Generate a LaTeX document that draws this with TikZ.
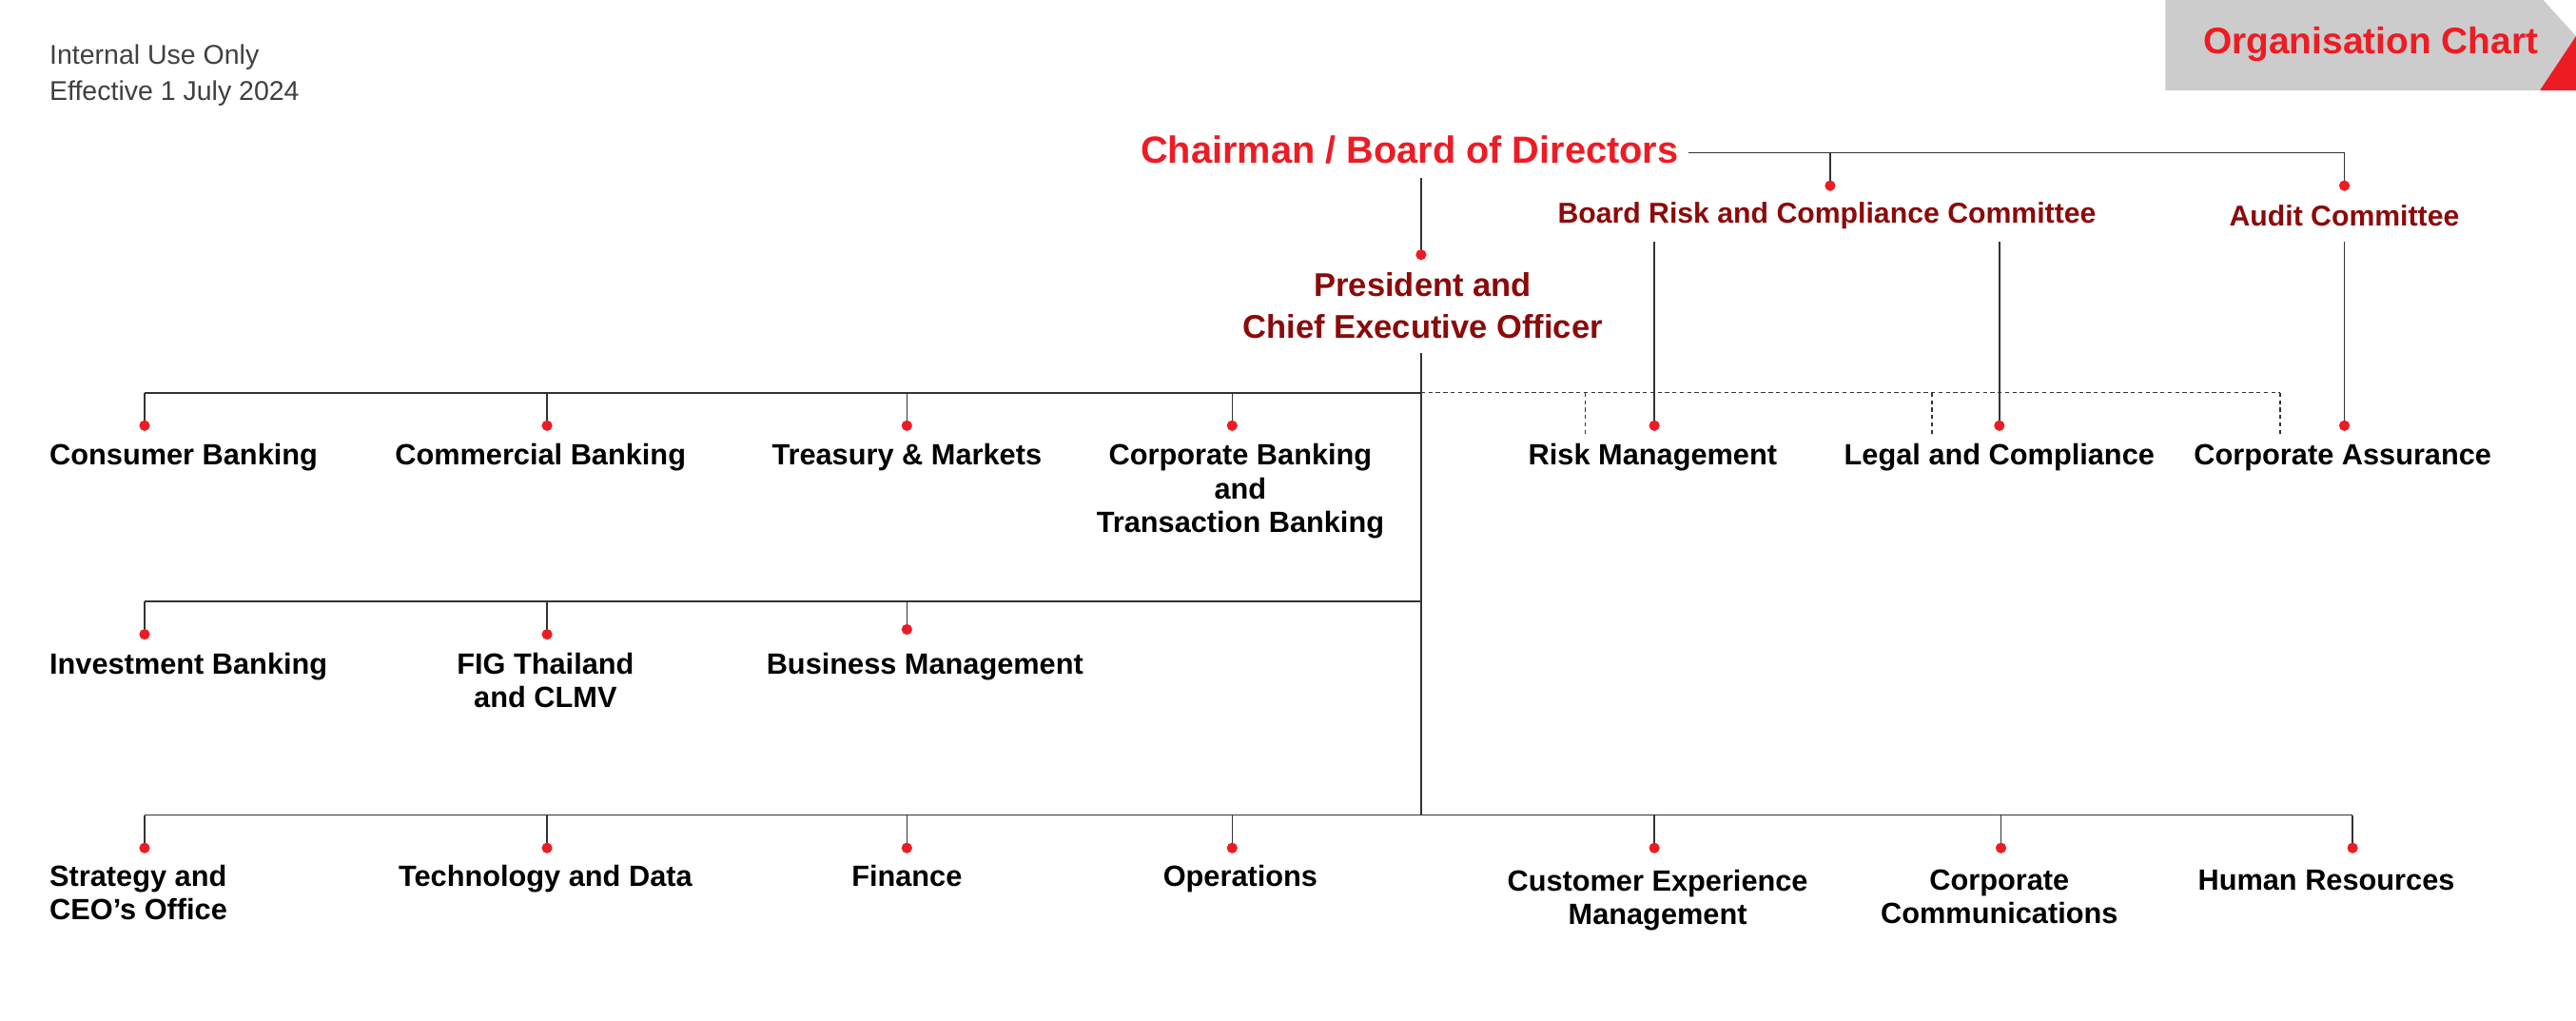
\documentclass[tikz,border=0pt]{standalone}
\usepackage{fontspec}
\setmainfont{Liberation Sans}
\definecolor{bred}{HTML}{ED1C24}
\definecolor{dred}{HTML}{8B0A0A}
\definecolor{lgray}{HTML}{CCCCCC}
\begin{document}
\begin{tikzpicture}[x=1pt,y=-1pt,
  unit/.style={font=\fontsize{17.8}{20.5}\selectfont\bfseries,align=center,inner sep=0pt,anchor=north},
  unitl/.style={unit,anchor=north west,align=left},
  comm/.style={font=\fontsize{17.5}{20}\selectfont\bfseries,text=dred,inner sep=0pt},
  ln/.style={draw=black!80,line width=0.9pt},
  dl/.style={draw=black!80,line width=0.8pt,dash pattern=on 2.5pt off 2pt},
  dot/.style={fill=bred,circle,inner sep=0pt,minimum size=6.5pt}]
\useasboundingbox (0,0) rectangle (1568,621);
\fill[white] (0,0) rectangle (1568,621);
% header
\node[anchor=west,inner sep=0pt,text=black!75,font=\fontsize{16.5}{17}\selectfont] (h1) at (30,35) {Internal Use Only};
\node[anchor=west,inner sep=0pt,text=black!75,font=\fontsize{16.5}{17}\selectfont] (h2) at (30,57) {Effective 1 July 2024};
\fill[lgray] (1318,0) -- (1548,0) -- (1568,22) -- (1568,55) -- (1318,55) -- cycle;
\fill[bred] (1568,22) -- (1568,55) -- (1546,55) -- cycle;
\node[font=\fontsize{22.5}{24}\selectfont\bfseries,text=bred,inner sep=0pt] (oc) at (1443,27) {Organisation Chart};
% top
\node[font=\fontsize{23}{26}\selectfont\bfseries,text=bred,inner sep=0pt] (ch) at (858,91) {Chairman / Board of Directors};
\node[comm] (brc) at (1112,131) {Board Risk and Compliance Committee};
\node[comm] (ac) at (1427,131) {Audit Committee};
\node[comm,font=\fontsize{20}{25}\selectfont\bfseries,align=center] (ceo) at (866,186) {President and\\Chief Executive Officer};
\draw[ln] (ch.east) ++(6,2) -- (1427,93) -- (1427,113);
\draw[ln] (1114,93) -- (1114,113);
\node[dot] at (1114,113) {}; \node[dot] at (1427,113) {};
\draw[ln] (865,108) -- (865,155); \node[dot] at (865,155) {};
\draw[ln] (865,215) -- (865,496);
% row1
\draw[ln] (88,239) -- (865,239);
\draw[dl] (865,239) -- (1388,239);
\foreach \x in {965,1176,1388} \draw[dl] (\x,239) -- (\x,265);
\foreach \x in {88,333,552,750} {\draw[ln] (\x,239) -- (\x,259); \node[dot] at (\x,259) {};}
\foreach \x in {1007,1217,1427} {\draw[ln] (\x,147) -- (\x,259); \node[dot] at (\x,259) {};}
\node[unitl] (u1) at (30,270) {Consumer Banking};
\node[unit] (u2) at (329,270) {Commercial Banking};
\node[unit] (u3) at (552,270) {Treasury \& Markets};
\node[unit] (u4) at (755,270) {Corporate Banking\\and\\Transaction Banking};
\node[unit] (u5) at (1006,270) {Risk Management};
\node[unit] (u6) at (1217,270) {Legal and Compliance};
\node[unit] (u7) at (1426,270) {Corporate Assurance};
% row2
\draw[ln] (88,366) -- (865,366);
\draw[ln] (88,366) -- (88,386); \node[dot] at (88,386) {};
\draw[ln] (333,366) -- (333,386); \node[dot] at (333,386) {};
\draw[ln] (552,366) -- (552,383); \node[dot] at (552,383) {};
\node[unitl] (v1) at (30,397) {Investment Banking};
\node[unit] (v2) at (332,397) {FIG Thailand\\and CLMV};
\node[unit] (v3) at (563,397) {Business Management};
% row3
\draw[ln] (88,496) -- (1432,496);
\foreach \x in {88,333,552,750,1007,1218,1432} {\draw[ln] (\x,496) -- (\x,516); \node[dot] at (\x,516) {};}
\node[unitl] (w1) at (30,526) {Strategy and\\CEO’s Office};
\node[unit] (w2) at (332,526) {Technology and Data};
\node[unit] (w3) at (552,526) {Finance};
\node[unit] (w4) at (755,526) {Operations};
\node[unit] (w5) at (1009,529) {Customer Experience\\Management};
\node[unit] (w6) at (1217,529) {Corporate\\Communications};
\node[unit] (w7) at (1416,529) {Human Resources};
\end{tikzpicture}
\end{document}
